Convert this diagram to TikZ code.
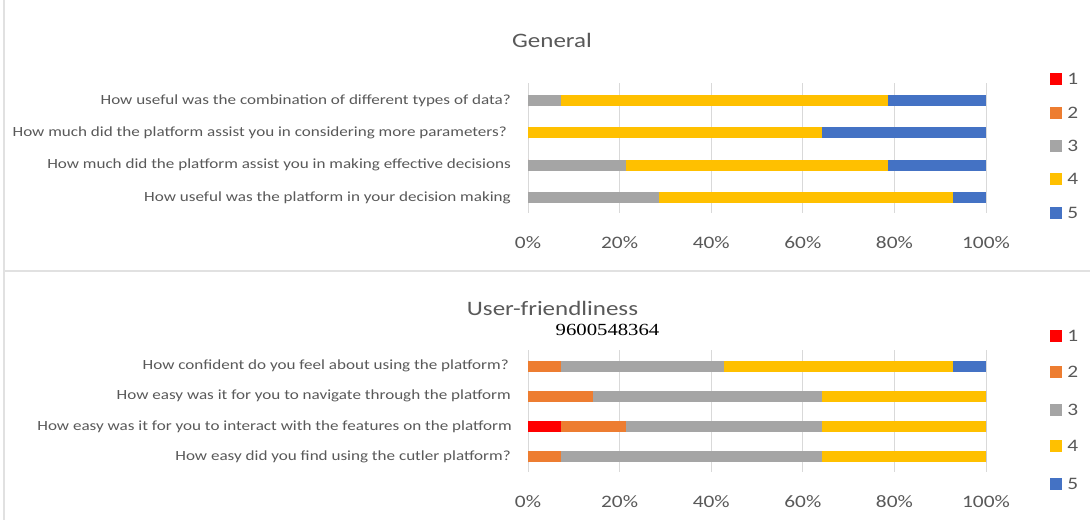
\documentclass[tikz,border=0pt]{standalone}
\usepackage{fontspec}
\setmainfont{Carlito}[FakeStretch=1.22]
\newfontfamily\serifnum{Liberation Serif}[FakeStretch=1.22]
\usetikzlibrary{positioning}

\definecolor{cOne}{HTML}{FF0000}
\definecolor{cTwo}{HTML}{ED7D31}
\definecolor{cThree}{HTML}{A5A5A5}
\definecolor{cFour}{HTML}{FFC000}
\definecolor{cFive}{HTML}{4472C4}
\definecolor{txtgray}{HTML}{595959}
\definecolor{gridgray}{HTML}{D9D9D9}

\tikzset{
	gridline/.style={draw=gridgray, line width=0.9pt},
	frameline/.style={draw=gridgray!80, line width=1.6pt},
	qlabel/.style={anchor=east, inner sep=0pt, text=txtgray, font=\fontsize{14}{16}\selectfont},
	ticklabel/.style={inner sep=0pt, text=txtgray, font=\fontsize{17.5}{20}\selectfont},
	charttitle/.style={inner sep=0pt, text=txtgray, font=\fontsize{20.5}{24}\selectfont},
	legkey/.style={minimum size=12pt, inner sep=0pt},
	legtext/.style={anchor=west, inner sep=0pt, text=txtgray, font=\fontsize{17.5}{20}\selectfont}
}

% origin of the 0% axis and width of one answer (14 answers = 100%)
\def\xz{528}
\def\unitw{32.714}

% stacked bar: y centre, counts of answers 1..5
\newcommand{\likertbar}[6]{%
	\fill[cOne]   ({\xz},{#1-5.5}) rectangle ({\xz+(#2)*\unitw},{#1+5.5});
	\fill[cTwo]   ({\xz+(#2)*\unitw},{#1-5.5}) rectangle ({\xz+(#2+#3)*\unitw},{#1+5.5});
	\fill[cThree] ({\xz+(#2+#3)*\unitw},{#1-5.5}) rectangle ({\xz+(#2+#3+#4)*\unitw},{#1+5.5});
	\fill[cFour]  ({\xz+(#2+#3+#4)*\unitw},{#1-5.5}) rectangle ({\xz+(#2+#3+#4+#5)*\unitw},{#1+5.5});
	\fill[cFive]  ({\xz+(#2+#3+#4+#5)*\unitw},{#1-5.5}) rectangle ({\xz+(#2+#3+#4+#5+#6)*\unitw},{#1+5.5});
}

\begin{document}
\begin{tikzpicture}[x=1pt, y=-1pt]
	\useasboundingbox[fill=white] (0,0) rectangle (1090,520);

	% frames
	\draw[frameline] (4,0) -- (4,520);
	\draw[frameline] (4,271) -- (1090,271);

	% ---- General ----
	\node[charttitle] (titleGen) at (552,40) {General};
	\foreach \p in {0,20,...,100} {
		\draw[gridline] ({\xz+\p*4.58},83) -- ({\xz+\p*4.58},213);
		\node[ticklabel] (tg\p) at ({\xz+\p*4.58},243) {\p\%};
	}
	\likertbar{100.5}{0}{0}{1}{10}{3}
	\likertbar{132.8}{0}{0}{0}{9}{5}
	\likertbar{165.1}{0}{0}{3}{8}{3}
	\likertbar{197.4}{0}{0}{4}{9}{1}
	\node[qlabel] (g1) at (511,100.5) {How useful was the combination of different types of data?};
	\node[qlabel] (g2) at (507,132.8) {How much did the platform assist you in considering more parameters?};
	\node[qlabel] (g3) at (511,165.1) {How much did the platform assist you in making effective decisions};
	\node[qlabel] (g4) at (511,197.4) {How useful was the platform in your decision making};

	\foreach \k/\c/\yy in {1/cOne/79,2/cTwo/112.7,3/cThree/146,4/cFour/179.3,5/cFive/212.5} {
		\node[legkey, fill=\c] (lg\k) at (1056,\yy) {};
		\node[legtext, right=5pt of lg\k] (lgt\k) {\k};
	}

	% ---- User-friendliness ----
	\node[charttitle] (titleUser) at (552.5,308) {User-friendliness};
	\node[inner sep=0pt, font=\serifnum\fontsize{17}{20}\selectfont] (phone) at (607.5,330) {9600548364};
	\foreach \p in {0,20,...,100} {
		\draw[gridline] ({\xz+\p*4.58},350) -- ({\xz+\p*4.58},472);
		\node[ticklabel] (tu\p) at ({\xz+\p*4.58},502) {\p\%};
	}
	\likertbar{366}{0}{1}{5}{7}{1}
	\likertbar{396.3}{0}{2}{7}{5}{0}
	\likertbar{426.6}{1}{2}{6}{5}{0}
	\likertbar{456.9}{0}{1}{8}{5}{0}
	\node[qlabel] (u1) at (509,366) {How confident do you feel about using the platform?};
	\node[qlabel] (u2) at (511,396.3) {How easy was it for you to navigate through the platform};
	\node[qlabel] (u3) at (512,426.6) {How easy was it for you to interact with the features on the platform};
	\node[qlabel] (u4) at (511,456.9) {How easy did you find using the cutler platform?};

	\foreach \k/\c/\yy in {1/cOne/336,2/cTwo/372,3/cThree/410,4/cFour/446,5/cFive/484} {
		\node[legkey, fill=\c] (lu\k) at (1056,\yy) {};
		\node[legtext, right=5pt of lu\k] (lut\k) {\k};
	}
\end{tikzpicture}
\end{document}
